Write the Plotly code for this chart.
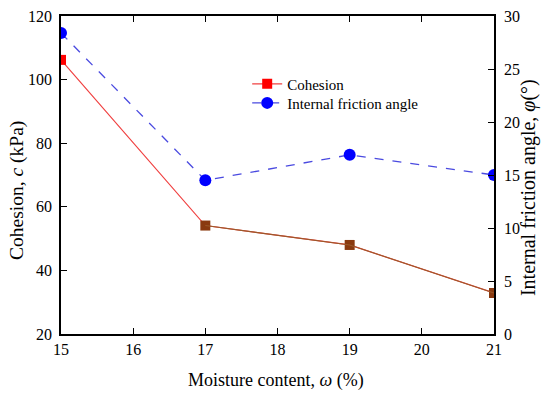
import plotly.graph_objects as go

moisture = [15, 17, 19, 21]
cohesion = [106.2, 54.1, 48.0, 32.9]
friction = [28.4, 14.5, 16.9, 15.0]

x_ticks = [15, 16, 17, 18, 19, 20, 21]
y_ticks = [20, 40, 60, 80, 100, 120]
y2_ticks = [0, 5, 10, 15, 20, 25, 30]

FONT = "Liberation Serif, Times New Roman, serif"

fig = go.Figure()

fig.add_trace(go.Scatter(
    x=moisture, y=cohesion, name="Cohesion", mode="lines+markers",
    line=dict(color="#f04040", width=1.2),
    marker=dict(symbol="square", size=10, color=["#ff0000", "#8a3a10", "#8a3a10", "#8a3a10"],
                line=dict(width=0)),
    yaxis="y", legend="legend",
))
fig.add_trace(go.Scatter(
    x=moisture[1:], y=cohesion[1:], mode="lines", showlegend=False,
    line=dict(color="#9a5a2a", width=1.1), hoverinfo="skip", yaxis="y",
))
fig.add_trace(go.Scatter(
    x=moisture, y=friction, name="Internal friction angle", mode="lines+markers",
    line=dict(color="#4a4ae0", width=1.3, dash="dash"),
    marker=dict(symbol="circle", size=12, color="#0000ff", line=dict(width=0)),
    yaxis="y2", legend="legend2",
))
# dummy trace to display top axis
fig.add_trace(go.Scatter(x=[15], y=[None], xaxis="x2", showlegend=False, hoverinfo="skip"))

axis_common = dict(
    showline=True, linecolor="black", linewidth=1.5, mirror=False,
    ticks="inside", ticklen=6, tickwidth=1.2, tickcolor="black",
    showgrid=False, zeroline=False, automargin=False,
    tickfont=dict(family=FONT, size=16, color="black"),
)

fig.update_layout(
    width=550, height=395,
    margin=dict(l=61, r=56, t=16, b=61),
    paper_bgcolor="white", plot_bgcolor="white",
    font=dict(family=FONT, color="black"),
    xaxis=dict(**axis_common, range=[15, 21], tickvals=x_ticks, ticklabelstandoff=0),
    yaxis=dict(**axis_common, range=[20, 120], tickvals=y_ticks, ticklabelstandoff=4),
    yaxis2=dict(**axis_common, range=[0, 30], tickvals=y2_ticks, overlaying="y", side="right",
                ticklabelstandoff=5),
    xaxis2=dict(overlaying="x", side="top", range=[15, 21], tickvals=x_ticks, showticklabels=False,
                showline=True, linecolor="black", linewidth=1.5, ticks="inside", ticklen=6,
                tickwidth=1.2, tickcolor="black", showgrid=False, zeroline=False, automargin=False),
    legend=dict(x=0.43, y=0.786, xanchor="left", yanchor="middle", bgcolor="rgba(0,0,0,0)",
                font=dict(family=FONT, size=15)),
    legend2=dict(x=0.43, y=0.726, xanchor="left", yanchor="middle", bgcolor="rgba(0,0,0,0)",
                 font=dict(family=FONT, size=15)),
    showlegend=True,
    annotations=[
        dict(text="Cohesion, <i>c</i> (kPa)", xref="paper", yref="paper", x=-0.1016, y=0.45,
             textangle=-90, showarrow=False, xanchor="center", yanchor="middle",
             font=dict(family=FONT, size=19.5, color="black")),
        dict(text="Internal friction angle, <i>φ</i>(°)", xref="paper", yref="paper", x=1.08, y=0.461,
             textangle=-90, showarrow=False, xanchor="center", yanchor="middle",
             font=dict(family=FONT, size=20, color="black")),
        dict(text="Moisture content, <i>ω</i> (%)", xref="paper", yref="paper", x=0.4965, y=-0.145,
             showarrow=False, xanchor="center", yanchor="middle",
             font=dict(family=FONT, size=18, color="black")),
    ],
)

fig.write_html("out.html", config={"displayModeBar": False},
               post_script="document.body.style.margin='0';document.body.style.overflow='hidden';")
